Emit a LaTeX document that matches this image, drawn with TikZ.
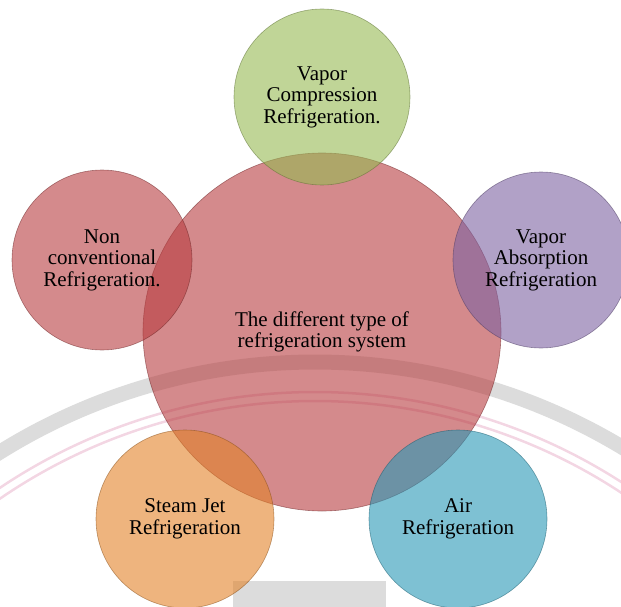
\documentclass[tikz,border=0pt]{standalone}
\usepackage{fontspec}
\setmainfont{Liberation Serif}

\definecolor{redc}{RGB}{183,60,63}
\definecolor{greenc}{RGB}{150,185,82}
\definecolor{purplec}{RGB}{125,98,162}
\definecolor{bluec}{RGB}{40,152,182}
\definecolor{orangec}{RGB}{226,130,40}
\definecolor{markgray}{RGB}{220,220,220}
\definecolor{markpink}{RGB}{243,214,227}

\tikzset{
  bubble/.style={circle,minimum size=#1,inner sep=0pt,align=center,
    font=\fontsize{21}{21.5}\selectfont,line width=.6pt,
    fill opacity=.6,draw opacity=.55,text opacity=1},
}

\begin{document}
\begin{tikzpicture}[x=1pt,y=-1pt]
\useasboundingbox (0,0) rectangle (621,607);
\clip (0,0) rectangle (621,607);

% faint watermark in the back
\draw[markgray,line width=15pt] ([shift={(236:596)}]315,958) arc[start angle=236,end angle=304,radius=596];
\draw[markpink,line width=2.5pt] ([shift={(234:566)}]315,958) arc[start angle=234,end angle=306,radius=566];
\draw[markpink,line width=2.5pt] ([shift={(234:557)}]315,958) arc[start angle=234,end angle=306,radius=557];
\fill[markgray] (233,581) rectangle (386,607);

% the centre
\node[bubble=358pt,fill=redc,draw=redc!60!black] (system) at (322,332) {The different type of\\refrigeration system};

% the five kinds round it
\node[bubble=176pt,fill=greenc,draw=greenc!60!black] (vapcomp) at (322,97) {Vapor\\Compression\\Refrigeration.};
\node[bubble=176pt,fill=purplec,draw=purplec!60!black] (vapabs) at (541,260) {Vapor\\Absorption\\Refrigeration};
\node[bubble=178pt,fill=bluec,draw=bluec!60!black] (air) at (458,519) {Air\\Refrigeration};
\node[bubble=178pt,fill=orangec,draw=orangec!60!black] (steam) at (185,519) {Steam Jet\\Refrigeration};
\node[bubble=180pt,fill=redc,draw=redc!60!black] (noncon) at (102,260) {Non\\conventional\\Refrigeration.};

\end{tikzpicture}
\end{document}
